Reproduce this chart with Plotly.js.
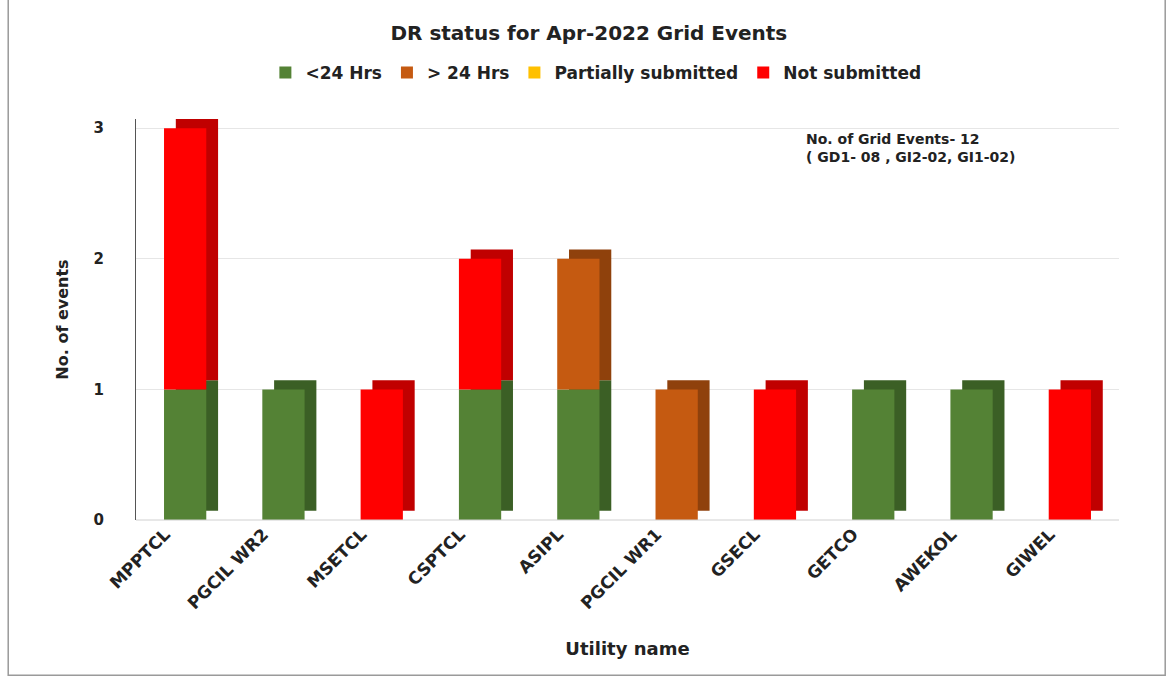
<!DOCTYPE html>
<html>
<head>
<meta charset="utf-8">
<script src="https://cdn.plot.ly/plotly-3.0.1.min.js"></script>
<style>html,body{margin:0;padding:0;background:#fff;}#chart{width:1173px;height:682px;}</style>
</head>
<body>
<div id="chart"></div>
<script>
const categories = ["MPPTCL","PGCIL WR2","MSETCL","CSPTCL","ASIPL","PGCIL WR1","GSECL","GETCO","AWEKOL","GIWEL"];
const lessThan24 = [1,1,0,1,1,0,0,1,1,0];
const moreThan24 = [0,0,0,0,1,1,0,0,0,0];
const partially  = [0,0,0,0,0,0,0,0,0,0];
const notSubmitted = [2,0,1,1,0,0,1,0,0,1];
const seriesNames = ["<24 Hrs","> 24 Hrs","Partially submitted","Not submitted"];
const yTicks = [0,1,2,3];

const FONT = "'DejaVu Sans', Verdana, sans-serif";
const colors = ["#548235","#c55a11","#ffc000","#ff0000"];
const sideColors = ["#3b5f25","#8f410c","#c49400","#c00000"];
const series = [lessThan24, moreThan24, partially, notSubmitted];

const BAR_W = 0.43, DEPTH_X = 0.12, DEPTH_Y = 0.07;

// cumulative bases for stacking
const bases = [];
let run = categories.map(()=>0);
series.forEach(vals=>{ bases.push(run.slice()); run = run.map((r,j)=>r+vals[j]); });

const backTraces = series.map((vals,i)=>({
  type:"bar", x:categories, y:vals, base:bases[i].map(b=>b+DEPTH_Y),
  offset:-BAR_W/2+DEPTH_X, width:BAR_W, cliponaxis:false,
  marker:{color:sideColors[i], line:{width:0}}, showlegend:false, hoverinfo:"skip"
}));
const frontTraces = series.map((vals,i)=>({
  type:"bar", x:categories, y:vals, base:bases[i], name:seriesNames[i],
  offset:-BAR_W/2, width:BAR_W, cliponaxis:false,
  marker:{color:colors[i], line:{width:0}}, hoverinfo:"x+y+name"
}));

const layout = {
  width:1173, height:682,
  barmode:"overlay",
  paper_bgcolor:"#fff", plot_bgcolor:"#fff",
  margin:{l:136, r:54, t:119, b:162},
  font:{family:FONT, color:"#222", size:15},
  title:{text:"<b>DR status for Apr-2022 Grid Events</b>", x:0.502, xref:"container", xanchor:"center", y:0.962, yref:"container", font:{size:20, family:FONT, color:"#222"}},
  showlegend:true,
  legend:{orientation:"h", xref:"container", yref:"container", x:0.508, xanchor:"center", y:0.893, yanchor:"middle",
    font:{size:17, family:FONT, color:"#222", weight:"bold"}, traceorder:"normal", itemwidth:30},
  xaxis:{type:"category", tickangle:-45, tickfont:{size:17, family:FONT, weight:"bold", color:"#222"},
    showline:false, showgrid:false, ticks:"", range:[-0.5,9.5], ticklabelshift:-20,
    title:{text:"<b>Utility name</b>", font:{size:18, family:FONT, color:"#222"}, standoff:30}},
  yaxis:{range:[0,3.07], tickvals:yTicks, ticktext:yTicks.map(String), showgrid:true, gridcolor:"#e6e6e6",
    zeroline:false, showline:true, linecolor:"#555", linewidth:1, ticks:"", ticklabelstandoff:28,
    tickfont:{size:15, family:FONT, weight:"bold", color:"#222"},
    title:{text:"<b>No. of events</b>", font:{size:16, family:FONT, color:"#222"}, standoff:20}},
  shapes:[
    {type:"rect", xref:"paper", yref:"paper", x0:-0.130, x1:1.047, y0:-0.387, y1:1.30, line:{color:"#9a9a9a", width:1.5}, fillcolor:"rgba(0,0,0,0)", layer:"below"},
    {type:"line", xref:"paper", yref:"paper", x0:0, x1:1, y0:0, y1:0, line:{color:"#d0d0d0", width:1}}
  ],
  annotations:[
    {xref:"paper", yref:"paper", x:0.68, y:0.975, xanchor:"left", yanchor:"top", align:"left", showarrow:false,
     text:"<b>No. of Grid Events- 12<br>( GD1- 08 , GI2-02, GI1-02)</b>", font:{size:14, family:FONT, color:"#222"}}
  ]
};

Plotly.newPlot("chart", backTraces.concat(frontTraces), layout, {displayModeBar:false, staticPlot:true});
</script>
</body>
</html>
